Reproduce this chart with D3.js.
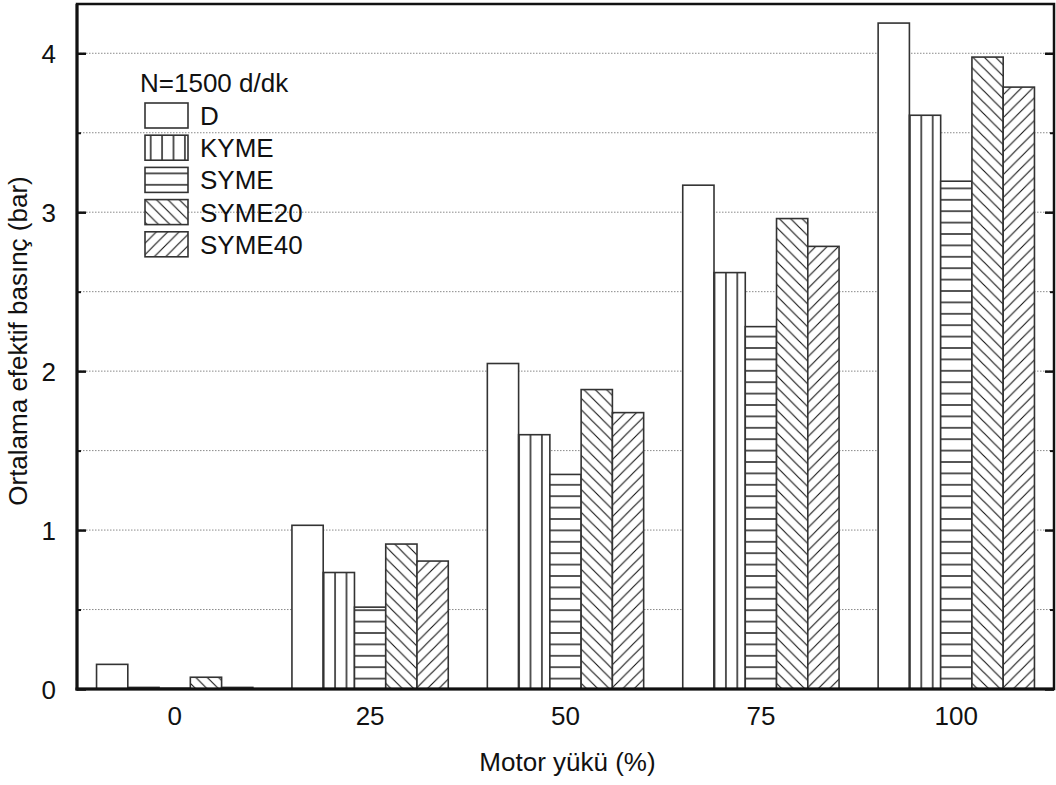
<!DOCTYPE html>
<html><head><meta charset="utf-8">
<script src="https://cdn.jsdelivr.net/npm/d3@7"></script>
<style>body{margin:0;background:#fff}svg{display:block}text{font-family:"Liberation Sans",Arial,sans-serif;fill:#111}</style>
</head><body><svg id="c" width="1056" height="785"></svg>
<script>
const categories = ["0","25","50","75","100"];
const seriesNames = ["D","KYME","SYME","SYME20","SYME40"];
const D      = [0.155, 1.03, 2.048, 3.17, 4.19];
const KYME   = [0.010, 0.733, 1.60, 2.62, 3.61];
const SYME   = [0.004, 0.515, 1.35, 2.28, 3.195];
const SYME20 = [0.074, 0.912, 1.884, 2.96, 3.976];
const SYME40 = [0.010, 0.805, 1.739, 2.785, 3.787];
const yTicks = [0,1,2,3,4];
const yMinor = [0.5,1.5,2.5,3.5];
const legendTitle = "N=1500 d/dk";
const xTitle = "Motor yükü (%)";
const yTitle = "Ortalama efektif basınç (bar)";

const values = [D, KYME, SYME, SYME20, SYME40];
const svg = d3.select("#c");
const L=77, R=1054, T=4, B=689;
const FS = 26;
const x0 = d3.scaleBand().domain(categories).range([L,R]).padding(0);
const x1 = d3.scaleBand().domain(seriesNames).range([x0.bandwidth()*0.1, x0.bandwidth()*0.9]).padding(0);
const y = d3.scaleLinear().domain([0,4.31]).range([B,T]);

// patterns
const defs = svg.append("defs");
const sp = 11.4;
function pat(id, fn){
  const p = defs.append("pattern").attr("id",id).attr("patternUnits","userSpaceOnUse")
    .attr("width",sp).attr("height",sp);
  p.append("rect").attr("width",sp).attr("height",sp).attr("fill","#fff");
  fn(p);
  return p;
}
pat("pV", p=>p.append("line").attr("x1",sp/2).attr("x2",sp/2).attr("y1",0).attr("y2",sp).attr("stroke","#111").attr("stroke-width",1.4));
pat("pH", p=>p.append("line").attr("y1",sp/2).attr("y2",sp/2).attr("x1",0).attr("x2",sp).attr("stroke","#111").attr("stroke-width",1.4)).attr("y",B%sp - sp/2+1);
pat("pB", p=>{ // backslash
  p.append("path").attr("d",`M0,0L${sp},${sp}M${-sp/2},${sp/2}L${sp/2},${sp*1.5}M${sp/2},${-sp/2}L${sp*1.5},${sp/2}`).attr("stroke","#111").attr("stroke-width",1.1);
});
pat("pF", p=>{ // slash
  p.append("path").attr("d",`M0,${sp}L${sp},0M${-sp/2},${sp/2}L${sp/2},${-sp/2}M${sp/2},${sp*1.5}L${sp*1.5},${sp/2}`).attr("stroke","#111").attr("stroke-width",1.1);
});
const fills = ["#fff","url(#pV)","url(#pH)","url(#pB)","url(#pF)"];

// grid
const gridVals = [...yMinor, ...yTicks.filter(v=>v>0)];
svg.append("g").selectAll("line").data(gridVals).join("line")
  .attr("x1",L).attr("x2",R).attr("y1",d=>y(d)).attr("y2",d=>y(d))
  .attr("stroke","#8a8a8a").attr("stroke-width",1).attr("stroke-dasharray","1.5,1.5");

// bars
const groups = svg.append("g").selectAll("g").data(categories).join("g")
  .attr("transform",d=>`translate(${x0(d)},0)`);
groups.selectAll("rect").data((c,i)=>seriesNames.map((s,j)=>({s,j,v:values[j][i]}))).join("rect")
  .attr("x",d=>x1(d.s)).attr("width",x1.bandwidth())
  .attr("y",d=>y(d.v)).attr("height",d=>B-y(d.v))
  .attr("fill",d=>fills[d.j]).attr("stroke","#333").attr("stroke-width",1.6);

// frame
svg.append("rect").attr("x",L).attr("y",T).attr("width",R-L).attr("height",B-T)
  .attr("fill","none").attr("stroke","#111").attr("stroke-width",2.5);
svg.append("line").attr("x1",L).attr("x2",L).attr("y1",T).attr("y2",B+1.5).attr("stroke","#111").attr("stroke-width",3);
svg.append("line").attr("x1",L-1.5).attr("x2",R).attr("y1",B).attr("y2",B).attr("stroke","#111").attr("stroke-width",3);

// y axes (ticks inward)
const yAxL = d3.axisLeft(y).tickValues(yTicks).tickSize(-9).tickPadding(21).tickFormat(d3.format("d"));
const gL = svg.append("g").attr("transform",`translate(${L},0)`).call(yAxL);
gL.select(".domain").remove();
gL.selectAll(".tick line").attr("stroke","#111").attr("stroke-width",2.5);
gL.selectAll(".tick text").attr("font-size",FS).attr("font-family","Liberation Sans, Arial, sans-serif").attr("fill","#111").attr("dy","0.36em");
const gLm = svg.append("g").attr("transform",`translate(${L},0)`).call(d3.axisLeft(y).tickValues(yMinor).tickSize(-4).tickFormat(""));
gLm.select(".domain").remove(); gLm.selectAll(".tick line").attr("stroke","#111").attr("stroke-width",2);
const gR = svg.append("g").attr("transform",`translate(${R},0)`).call(d3.axisRight(y).tickValues(yTicks).tickSize(-9).tickFormat(""));
gR.select(".domain").remove(); gR.selectAll(".tick line").attr("stroke","#111").attr("stroke-width",2.5);
const gRm = svg.append("g").attr("transform",`translate(${R},0)`).call(d3.axisRight(y).tickValues(yMinor).tickSize(-4).tickFormat(""));
gRm.select(".domain").remove(); gRm.selectAll(".tick line").attr("stroke","#111").attr("stroke-width",2);

// x axis labels
const gX = svg.append("g").attr("transform",`translate(0,${B})`).call(d3.axisBottom(x0).tickSize(0).tickPadding(18));
gX.select(".domain").remove();
gX.selectAll(".tick text").attr("font-size",FS).attr("font-family","Liberation Sans, Arial, sans-serif").attr("fill","#111");

// titles
svg.append("text").attr("x",(L+R)/2+2).attr("y",771).attr("text-anchor","middle").attr("font-size",FS).text(xTitle);
svg.append("text").attr("transform",`translate(27,341) rotate(-90)`).attr("text-anchor","middle").attr("font-size",FS).text(yTitle);

// legend
const lg = svg.append("g");
lg.append("text").attr("x",140).attr("y",92).attr("font-size",FS).text(legendTitle);
const rows = lg.selectAll("g").data(seriesNames).join("g").attr("transform",(d,i)=>`translate(145,${103+i*32.2})`);
rows.append("rect").attr("width",43).attr("height",25).attr("fill",(d,i)=>fills[i]).attr("stroke","#333").attr("stroke-width",1.6);
rows.append("text").attr("x",55).attr("y",22).attr("font-size",FS).text(d=>d);
</script></body></html>
